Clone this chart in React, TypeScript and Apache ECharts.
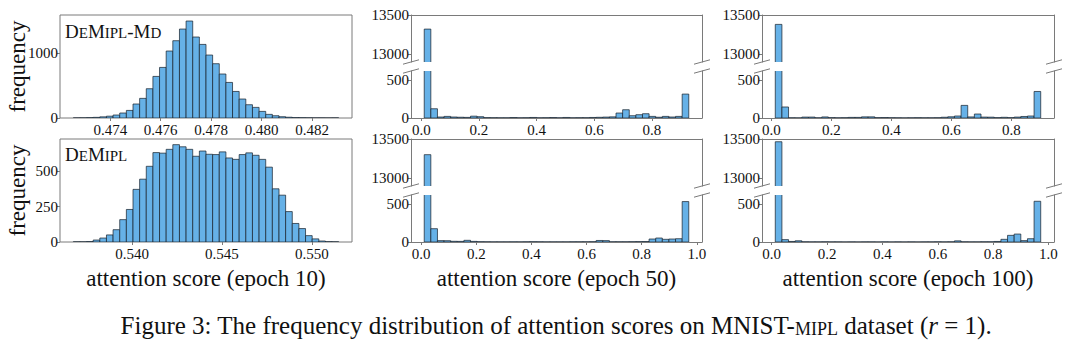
import React, { useEffect, useRef } from 'react';
import * as echarts from 'echarts';

// ---------------- data ----------------
// DeMipl-Md, epoch 10 (40 bins between min and max score)
const md10Range = [0.47253, 0.48306];
const md10Counts = [1, 2, 5, 10, 18, 28, 46, 77, 117, 216, 303, 452, 642, 781, 1034, 1193, 1373, 1497, 1250, 1136, 972, 838, 679, 549, 410, 293, 205, 164, 102, 56, 35, 20, 12, 6, 4, 2, 1, 1, 0, 1];
const md10XTicks = [0.474, 0.476, 0.478, 0.48, 0.482];
const md10YTicks = [0, 1000];
const md10YMax = 1590;

// DeMipl, epoch 10
const de10Range = [0.53672, 0.5515];
const de10Counts = [1, 1, 3, 14, 28, 50, 87, 158, 230, 372, 444, 535, 632, 628, 655, 688, 673, 655, 606, 643, 620, 618, 637, 594, 584, 618, 630, 613, 584, 529, 376, 331, 215, 131, 95, 45, 22, 7, 2, 1];
const de10XTicks = [0.54, 0.545, 0.55];
const de10YTicks = [0, 250, 500];
const de10YMax = 728;

// DeMipl-Md, epoch 50
const md50Range = [0.01, 0.928];
const md50Counts = [13320, 121, 13, 21, 13, 10, 8, 24, 17, 5, 4, 3, 3, 6, 3, 4, 7, 3, 4, 6, 3, 7, 3, 4, 4, 7, 9, 12, 15, 65, 108, 30, 43, 56, 21, 10, 21, 13, 21, 313];

// DeMipl-Md, epoch 100
const md100Range = [0.013, 0.898];
const md100Counts = [13380, 144, 3, 2, 12, 12, 3, 14, 5, 3, 4, 8, 8, 15, 15, 5, 6, 4, 3, 2, 3, 4, 3, 3, 4, 10, 16, 26, 165, 14, 52, 12, 11, 5, 9, 5, 12, 20, 26, 347];

// DeMipl, epoch 50
const de50Range = [0.011, 0.971];
const de50Counts = [13300, 174, 18, 17, 9, 8, 22, 8, 4, 3, 2, 2, 2, 2, 2, 3, 4, 3, 2, 2, 2, 2, 3, 3, 3, 4, 20, 18, 3, 3, 3, 4, 5, 6, 39, 52, 35, 39, 43, 529];

// DeMipl, epoch 100
const de100Range = [0.013, 0.972];
const de100Counts = [13465, 31, 7, 16, 3, 2, 2, 3, 2, 2, 1, 2, 1, 2, 2, 1, 2, 1, 2, 1, 2, 1, 2, 2, 3, 2, 3, 15, 3, 2, 2, 3, 3, 7, 35, 87, 104, 18, 43, 533];

// broken y axes
const upperRange = [12900, 13500];
const upperTicks = [13000, 13500];
const lowerMax = 615;
const lowerTicks = [0, 500];
const scoreTicksTop = [0, 0.2, 0.4, 0.6, 0.8];
const scoreTicksBottom = [0, 0.2, 0.4, 0.6, 0.8, 1.0];

const xTitles = ['attention score (epoch 10)', 'attention score (epoch 50)', 'attention score (epoch 100)'];
const yTitle = 'frequency';

// ---------------- style / layout ----------------
const FONT = '"Liberation Serif", "Times New Roman", serif';
const SPINE = '#7a7a7a';
const TXT = '#111';
const BAR_FILL = '#66b1e7';
const BAR_EDGE = 'rgba(25,35,45,0.8)';
const TICK_SIZE = 15;
const cols = [
  { left: 60, width: 292 },
  { left: 411, width: 291 },
  { left: 762, width: 292 },
];
const rows = [
  { top: 15, height: 103 },
  { top: 139, height: 103 },
];
const GAP = 9;

function hist(range: number[], counts: number[]) {
  const lo = range[0];
  const w = (range[1] - range[0]) / counts.length;
  return counts.map((c, i) => [lo + i * w, lo + (i + 1) * w, c]);
}
function padded(range: number[]) {
  const d = (range[1] - range[0]) * 0.05;
  return [range[0] - d, range[1] + d];
}

const renderBar = (_p: any, api: any) => {
  const top = api.coord([api.value(0), api.value(2)]);
  const base = api.coord([api.value(1), 0]);
  return {
    type: 'rect',
    shape: { x: top[0], y: top[1], width: base[0] - top[0], height: base[1] - top[1] },
    style: { fill: BAR_FILL, stroke: BAR_EDGE, lineWidth: 0.9 },
  };
};

function buildOption() {
  const grid: any[] = [];
  const xAxis: any[] = [];
  const yAxis: any[] = [];
  const series: any[] = [];
  const graphic: any[] = [];

  const labelStyle = { fontFamily: FONT, fontSize: TICK_SIZE, color: TXT };
  const lineStyle = { color: SPINE, width: 1 };

  const addX = (gi: number, range: number[], ticks: number[] | null, digits: number, position: string, showLine: boolean) => {
    const [mn, mx] = padded(range);
    xAxis.push({
      type: 'value', gridIndex: gi, min: mn, max: mx, position,
      axisLine: { show: showLine, onZero: false, lineStyle },
      axisTick: ticks ? { show: true, customValues: ticks, length: 3, lineStyle } : { show: false },
      axisLabel: ticks
        ? { show: true, customValues: ticks, margin: 4, ...labelStyle, formatter: (v: number) => Number(v).toFixed(digits) }
        : { show: false },
      splitLine: { show: false },
    });
    return xAxis.length - 1;
  };
  const addY = (gi: number, mn: number, mx: number, ticks: number[] | null, position: string, showLine: boolean) => {
    yAxis.push({
      type: 'value', gridIndex: gi, min: mn, max: mx, position,
      axisLine: { show: showLine, onZero: false, lineStyle },
      axisTick: ticks ? { show: true, customValues: ticks, length: 3, lineStyle } : { show: false },
      axisLabel: ticks
        ? { show: true, customValues: ticks, margin: 2, ...labelStyle, formatter: (v: number) => String(Math.round(v)) }
        : { show: false },
      splitLine: { show: false },
    });
    return yAxis.length - 1;
  };
  const addSeries = (xi: number, yi: number, data: number[][]) => {
    series.push({
      type: 'custom', xAxisIndex: xi, yAxisIndex: yi, clip: true,
      encode: { x: [0, 1], y: 2 }, data, renderItem: renderBar,
    });
  };

  // full panels (left column)
  const full = [
    { row: 0, range: md10Range, counts: md10Counts, xTicks: md10XTicks, yTicks: md10YTicks, yMax: md10YMax },
    { row: 1, range: de10Range, counts: de10Counts, xTicks: de10XTicks, yTicks: de10YTicks, yMax: de10YMax },
  ];
  full.forEach((p) => {
    const c = cols[0];
    const r = rows[p.row];
    grid.push({ left: c.left, top: r.top, width: c.width, height: r.height, show: true, borderColor: SPINE, borderWidth: 1 });
    const gi = grid.length - 1;
    const xi = addX(gi, p.range, p.xTicks, 3, 'bottom', false);
    const yi = addY(gi, 0, p.yMax, p.yTicks, 'left', false);
    addSeries(xi, yi, hist(p.range, p.counts));
  });

  // broken panels
  const broken = [
    { col: 1, row: 0, range: md50Range, counts: md50Counts, xTicks: scoreTicksTop },
    { col: 2, row: 0, range: md100Range, counts: md100Counts, xTicks: scoreTicksTop },
    { col: 1, row: 1, range: de50Range, counts: de50Counts, xTicks: scoreTicksBottom },
    { col: 2, row: 1, range: de100Range, counts: de100Counts, xTicks: scoreTicksBottom },
  ];
  broken.forEach((p) => {
    const c = cols[p.col];
    const r = rows[p.row];
    const h = (r.height - GAP) / 2;
    const data = hist(p.range, p.counts);
    // upper part
    grid.push({ left: c.left, top: r.top, width: c.width, height: h });
    let gi = grid.length - 1;
    let xi = addX(gi, p.range, null, 1, 'top', true);
    let yi = addY(gi, upperRange[0], upperRange[1], upperTicks, 'left', true);
    addY(gi, upperRange[0], upperRange[1], null, 'right', true);
    addSeries(xi, yi, data);
    // lower part
    grid.push({ left: c.left, top: r.top + h + GAP, width: c.width, height: h });
    gi = grid.length - 1;
    xi = addX(gi, p.range, p.xTicks, 1, 'bottom', true);
    yi = addY(gi, 0, lowerMax, lowerTicks, 'left', true);
    addY(gi, 0, lowerMax, null, 'right', true);
    addSeries(xi, yi, data);
    // break marks
    const ys = [r.top + h, r.top + h + GAP];
    [c.left, c.left + c.width].forEach((sx) => {
      ys.forEach((yy) => {
        graphic.push({
          type: 'line', silent: true,
          shape: { x1: sx - 8, y1: yy + 2.2, x2: sx + 8, y2: yy - 2.2 },
          style: { stroke: SPINE, lineWidth: 1 },
        });
      });
    });
  });

  const textStyle = (text: string, size: number, align: string) => ({
    text, fontFamily: FONT, fontSize: size, fill: TXT,
    textAlign: align, textVerticalAlign: 'middle', align, verticalAlign: 'middle',
  });

  // axis titles
  rows.forEach((r) => {
    graphic.push({ type: 'text', x: 17, y: r.top + r.height / 2, rotation: Math.PI / 2, style: textStyle(yTitle, 23, 'center') });
  });
  cols.forEach((c, i) => {
    graphic.push({ type: 'text', x: c.left + c.width / 2, y: 278, style: textStyle(xTitles[i], 23, 'center') });
  });

  // method labels (small caps)
  const rich = {
    a: { fontFamily: FONT, fontSize: 19, fill: TXT, verticalAlign: 'bottom' },
    b: { fontFamily: FONT, fontSize: 15, fill: TXT, verticalAlign: 'bottom' },
  };
  graphic.push({ type: 'text', x: 65, y: 31, style: { ...textStyle('{a|D}{b|E}{a|M}{b|IPL}{a|-M}{b|D}', 19, 'left'), rich } });
  graphic.push({ type: 'text', x: 65, y: 154, style: { ...textStyle('{a|D}{b|E}{a|M}{b|IPL}', 19, 'left'), rich } });

  // caption
  const capRich = {
    n: { fontFamily: FONT, fontSize: 25, fill: TXT, verticalAlign: 'bottom' },
    s: { fontFamily: FONT, fontSize: 18, fill: TXT, verticalAlign: 'bottom' },
    i: { fontFamily: FONT, fontSize: 25, fill: TXT, fontStyle: 'italic', verticalAlign: 'bottom' },
  };
  graphic.push({
    type: 'text', x: 556, y: 325,
    style: {
      ...textStyle('{n|Figure 3: The frequency distribution of attention scores on MNIST-}{s|MIPL}{n| dataset (}{i|r}{n| = 1).}', 25, 'center'),
      rich: capRich,
    },
  });

  return { animation: false, backgroundColor: '#ffffff', grid, xAxis, yAxis, series, graphic };
}

export default function App() {
  const ref = useRef<HTMLDivElement>(null);
  useEffect(() => {
    if (!ref.current) return;
    const chart = echarts.init(ref.current, undefined, { renderer: 'svg' });
    chart.setOption(buildOption() as any);
    return () => chart.dispose();
  }, []);
  return <div ref={ref} style={{ position: 'fixed', left: 0, top: 0, width: 1080, height: 345, background: '#fff' }} />;
}
